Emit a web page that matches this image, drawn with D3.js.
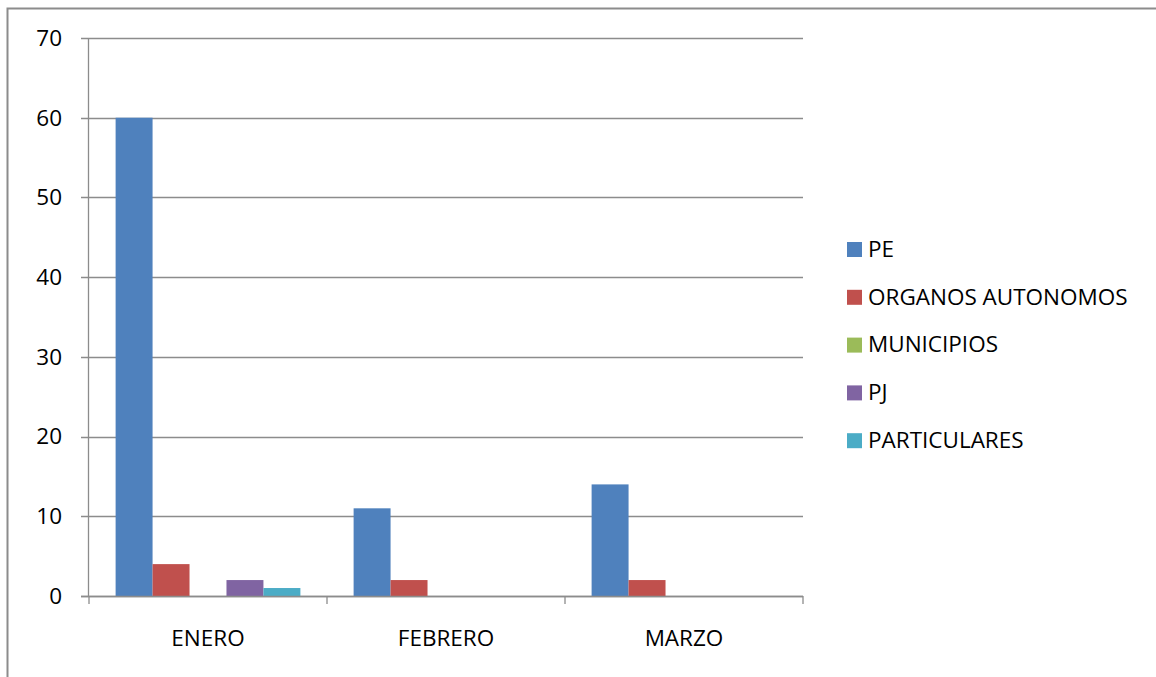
<!DOCTYPE html>
<html><head><meta charset="utf-8">
<script src="https://cdn.jsdelivr.net/npm/d3@7"></script>
<style>body{margin:0;background:#fff}svg{display:block}text{font-family:"Open Sans","Liberation Sans",sans-serif;fill:#000}</style>
</head><body>
<svg id="c" width="1156" height="677"></svg>
<script>
const categories = ["ENERO", "FEBRERO", "MARZO"];
const seriesNames = ["PE", "ORGANOS AUTONOMOS", "MUNICIPIOS", "PJ", "PARTICULARES"];
const colors = ["#4f81bd", "#c0504d", "#9bbb59", "#8064a2", "#4bacc6"];
const PE = [60, 11, 14];
const ORGANOS = [4, 2, 2];
const MUNICIPIOS = [0, 0, 0];
const PJ = [2, 0, 0];
const PARTICULARES = [1, 0, 0];
const yTicks = [0, 10, 20, 30, 40, 50, 60, 70];
const seriesValues = [PE, ORGANOS, MUNICIPIOS, PJ, PARTICULARES];

(function () {
const svg = d3.select("#c");
svg.append("rect").attr("x", 7.5).attr("y", 8.5).attr("width", 1160).attr("height", 700)
  .attr("fill", "none").attr("stroke", "#8c8c8c").attr("stroke-width", 2);

const pLeft = 89, pRight = 803, pTop = 38, pBottom = 596;
const x0 = d3.scaleBand().domain(categories).range([pLeft, pRight]).paddingInner(0).paddingOuter(0);
const x1 = d3.scaleBand().domain(seriesNames).range([0, x0.bandwidth()]).paddingOuter(0.72).paddingInner(0);
const y = d3.scaleLinear().domain([0, 70]).range([pBottom, pTop]);

svg.append("g").selectAll("line").data(yTicks).join("line")
  .attr("x1", pLeft - 8).attr("x2", pRight).attr("y1", d => Math.round(y(d)) + 0.5).attr("y2", d => Math.round(y(d)) + 0.5)
  .attr("stroke", "#8c8c8c").attr("stroke-width", 1.3);
svg.append("line").attr("x1", pLeft - 0.5).attr("x2", pLeft - 0.5).attr("y1", pTop).attr("y2", pBottom)
  .attr("stroke", "#8c8c8c").attr("stroke-width", 1.3);
svg.append("g").selectAll("text").data(yTicks).join("text")
  .attr("x", 62).attr("y", d => y(d)).attr("dy", "0.35em").attr("text-anchor", "end")
  .attr("font-size", 22.5).text(d => d);

const g = svg.append("g");
categories.forEach((c, ci) => {
  seriesNames.forEach((s, si) => {
    const v = seriesValues[si][ci];
    if (v <= 0) return;
    g.append("rect").attr("x", x0(c) + x1(s)).attr("width", x1.bandwidth())
      .attr("y", y(v)).attr("height", y(0) - y(v)).attr("fill", colors[si]);
  });
});

svg.append("line").attr("x1", pLeft - 8).attr("x2", pRight).attr("y1", pBottom + 0.5).attr("y2", pBottom + 0.5)
  .attr("stroke", "#8c8c8c").attr("stroke-width", 1.3);
const bounds = categories.map(c => x0(c)).concat([pRight]);
svg.append("g").selectAll("line").data(bounds).join("line")
  .attr("x1", d => d).attr("x2", d => d).attr("y1", pBottom).attr("y2", pBottom + 8)
  .attr("stroke", "#8c8c8c").attr("stroke-width", 1.3);
svg.append("g").selectAll("text").data(categories).join("text")
  .attr("x", c => x0(c) + x0.bandwidth() / 2).attr("y", 638).attr("dy", "0.35em")
  .attr("text-anchor", "middle").attr("font-size", 22.5).text(d => d);

const lg = svg.append("g");
seriesNames.forEach((s, i) => {
  const cy = 249 + i * 47.8;
  lg.append("rect").attr("x", 847).attr("y", cy - 7).attr("width", 15).attr("height", 15).attr("fill", colors[i]);
  lg.append("text").attr("x", 868).attr("y", cy).attr("dy", "0.35em").attr("font-size", 22.5).text(s);
});
})();
</script>
</body></html>
